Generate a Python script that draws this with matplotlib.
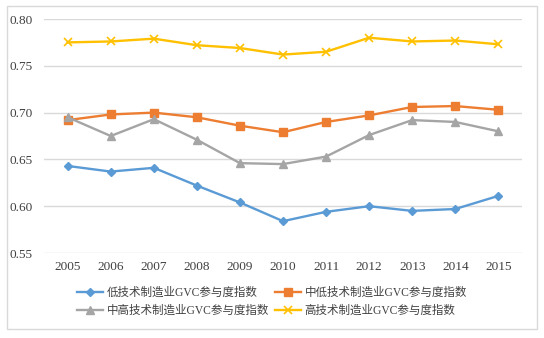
import matplotlib.pyplot as plt
from matplotlib.patches import Rectangle

years = [2005, 2006, 2007, 2008, 2009, 2010, 2011, 2012, 2013, 2014, 2015]
low = [0.643, 0.637, 0.641, 0.622, 0.604, 0.584, 0.594, 0.600, 0.595, 0.597, 0.611]
mid_low = [0.692, 0.698, 0.700, 0.695, 0.686, 0.679, 0.690, 0.697, 0.706, 0.707, 0.703]
mid_high = [0.695, 0.675, 0.693, 0.671, 0.646, 0.645, 0.653, 0.676, 0.692, 0.690, 0.680]
high = [0.775, 0.776, 0.779, 0.772, 0.769, 0.762, 0.765, 0.780, 0.776, 0.777, 0.773]
names = ['低技术制造业GVC参与度指数', '中低技术制造业GVC参与度指数',
         '中高技术制造业GVC参与度指数', '高技术制造业GVC参与度指数']

fonts = ['Liberation Serif', 'Noto Sans CJK SC']
plt.rcParams['font.family'] = fonts

fig = plt.figure(figsize=(5.44, 3.38), dpi=100)
fig.patches.append(Rectangle((7 / 544, 1 - 329 / 338), 530 / 544, 323 / 338,
                             transform=fig.transFigure, fill=False,
                             edgecolor='#d9d9d9', linewidth=1))
ax = fig.add_axes([44 / 544, 1 - 253 / 338, 478 / 544, 234 / 338])

ax.plot(years, low, color='#5b9bd5', marker='D', markersize=4, linewidth=1.7, label=names[0])
ax.plot(years, mid_low, color='#ed7d31', marker='s', markersize=5.5, linewidth=1.7, label=names[1])
ax.plot(years, mid_high, color='#a5a5a5', marker='^', markersize=5.5, linewidth=1.7, label=names[2])
ax.plot(years, high, color='#ffc000', marker='x', markersize=5.5, markeredgewidth=1.2,
        linewidth=1.7, label=names[3])

ax.set_ylim(0.55, 0.80)
ax.set_xlim(2004.45, 2015.55)
ax.set_xticks(years)
ax.set_yticks([0.55, 0.60, 0.65, 0.70, 0.75, 0.80])
ax.set_yticklabels([f'{v:.2f}' for v in ax.get_yticks()])
ax.tick_params(length=0, labelsize=9.5, colors='#404040', pad=6)
ax.tick_params(axis='y', pad=8)
ax.grid(axis='y', color='#d9d9d9', linewidth=1)
ax.set_axisbelow(True)
for s in ax.spines.values():
    s.set_visible(False)

# handles order so that ncol=2 reads row by row
h, l = ax.get_legend_handles_labels()
order = [0, 2, 1, 3]
fig.legend([h[i] for i in order], [l[i] for i in order], ncol=2,
           loc='center', bbox_to_anchor=(0.5, 1 - 302 / 338), frameon=False,
           fontsize=8.3, handlelength=2.3, columnspacing=0.5, labelspacing=0.5,
           handletextpad=0.3, labelcolor='#404040')

fig.savefig('out.png', dpi=100)
